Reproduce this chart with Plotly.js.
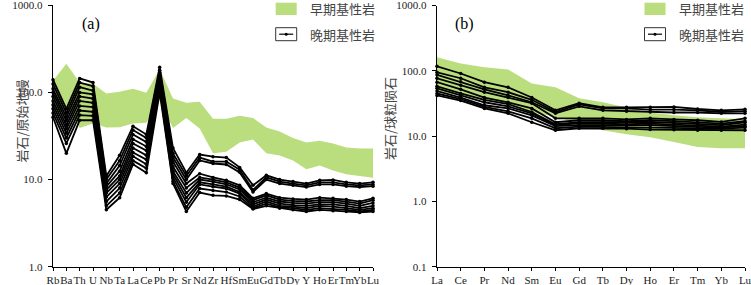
<!DOCTYPE html>
<html>
<head>
<meta charset="utf-8">
<script src="https://cdn.plot.ly/plotly-3.0.1.min.js"></script>
<style>html,body{margin:0;padding:0;background:#fff;}#chart{width:751px;height:285px;}</style>
</head>
<body>
<div id="chart"></div>
<script>
// ---------- Panel (a): primitive-mantle normalised ----------
const elemsPM = ["Rb","Ba","Th","U","Nb","Ta","La","Ce","Pb","Pr","Sr","Nd","Zr","Hf","Sm","Eu","Gd","Tb","Dy","Y","Ho","Er","Tm","Yb","Lu"];
const earlyPM_upper = [136,213,130,126,97,102,110,99,185,85,76,78,50,50,54,51,39.5,35.6,30,26.6,28,25.9,23.3,22.7,22.7];
const earlyPM_lower = [52,70,39,44,39.5,40,44,45,80,39,51,38.5,20,20.8,26.6,28.8,20,18.9,16.6,13.1,14.5,12.7,11.5,10.9,10.5];
const latePM1  = [140,65,145,130,11,19,41,33,195,23,12,19.4,18.3,17.9,13.8,8.6,11.2,10,9.5,9.0,9.8,9.9,9.3,9.0,9.3];
const latePM2  = [125,58,130,118,10,16.5,37,30,180,20,11,17.9,16.1,16.1,13,7.6,10.6,9.5,9.0,8.6,9.3,9.3,8.8,8.6,8.8];
const latePM3  = [110,52,115,105,9,14.5,33,27,170,18,10,16.6,15.3,14.9,12.1,7.2,10,9.0,8.6,8.2,8.8,8.8,8.4,8.2,8.4];
const latePM4  = [100,47,100,95,8.3,12.5,29,24,160,16,9,11.7,10.6,9.8,8.6,6.1,6.9,6.2,6.0,5.9,6.2,6.1,5.9,5.6,6.1];
const latePM5  = [90,42,90,85,7.6,11,26,21.5,150,14,8,10.6,10,9.3,8.1,5.8,6.6,5.9,5.7,5.6,5.8,5.8,5.6,5.3,5.8];
const latePM6  = [80,38,80,76,7,10,23,19,140,12.5,7,10,9.5,8.8,7.7,5.5,6.2,5.6,5.4,5.3,5.5,5.5,5.3,5.0,5.4];
const latePM7  = [72,34,70,68,6.3,9,20.5,17,130,11.5,6.2,9.3,8.8,8.3,7.2,5.2,5.9,5.3,5.1,5.0,5.2,5.2,5.0,4.7,5.0];
const latePM8  = [65,30,62,60,5.6,8,18.5,15,120,10.5,5.5,8.8,8.3,7.9,6.9,4.9,5.6,5.0,4.9,4.7,5.0,4.9,4.7,4.5,4.7];
const latePM9  = [58,26,55,54,5,7,16.5,13.5,110,9.5,4.8,7.9,7.5,7.2,6.4,4.7,5.3,4.8,4.7,4.5,4.7,4.6,4.5,4.3,4.5];
const latePM10 = [52,20,48,48,4.5,6.2,15,12,100,9,4.3,7.1,6.6,6.5,5.9,4.6,5.0,4.7,4.5,4.3,4.5,4.4,4.3,4.2,4.3];
const yTickValsA = [1,10,100,1000];
const yTickTextA = ["1.0","10.0","100.0","1000.0"];

// ---------- Panel (b): chondrite normalised ----------
const elemsCH = ["La","Ce","Pr","Nd","Sm","Eu","Gd","Tb","Dy","Ho","Er","Tm","Yb","Lu"];
const earlyCH_upper = [161,130,113,105,64,56,38,33,27.5,23,20.9,19.4,18.7,18.1];
const earlyCH_lower = [48,42,35,31,23,20,15.5,12.3,10.7,9.6,8.1,6.8,6.5,6.5];
const lateCH1  = [117,91,67,56,39,24.8,31.9,27.6,27.6,27.6,28,26,24.8,25.7];
const lateCH2  = [95,77,56,47,36,23.4,30.6,26.6,26.6,25.5,25.5,24.8,23.4,24.1];
const lateCH3  = [87,68,52,42,33,22.3,28.6,24.8,24,23.5,23,23,22.3,22.3];
const lateCH4  = [77,60,47,39,31.9,18.7,18.7,18.7,18,18.7,18,17.5,16.5,18.7];
const lateCH5  = [67,52,39,33,26.6,16.3,17.5,17.5,17,17.5,17,16.3,15.5,17];
const lateCH6  = [58,45,36,31,23.4,15.2,16.3,16.3,16.3,16.5,16,15.5,14.7,16.3];
const lateCH7  = [54,42,33,28.6,22.3,14.7,15.7,15.5,15.2,15.5,15,14.5,14,15];
const lateCH8  = [49,39,29.7,26.6,20.8,14.2,14.7,14.7,14.7,14.7,14.2,13.8,13.5,14.2];
const lateCH9  = [45,37,28,24,18.7,13.2,14,13.8,13.6,13.5,13.4,13.2,13,13.5];
const lateCH10 = [42,35,26.6,22.3,16.3,12.3,13.2,13.2,13,12.6,12.5,12.3,12.3,12.3];
const yTickValsB = [0.1,1,10,100,1000];
const yTickTextB = ["0.1","1.0","10.0","100.0","1000.0"];

const legendEarly = "早期基性岩";
const legendLate = "晚期基性岩";
const yTitleA = "岩石/原始地幔";
const yTitleB = "岩石/球粒陨石";

// ---------- build ----------
const W = 751, H = 285;
const px = x => x / W;
const py = y => 1 - y / H;
const GREEN = "rgb(186,221,126)";
const serif = "Liberation Serif, Times New Roman, serif";
const cjk = "Noto Sans CJK SC, sans-serif";

const latePM = [latePM1,latePM2,latePM3,latePM4,latePM5,latePM6,latePM7,latePM8,latePM9,latePM10];
const lateCH = [lateCH1,lateCH2,lateCH3,lateCH4,lateCH5,lateCH6,lateCH7,lateCH8,lateCH9,lateCH10];

const traces = [];
function band(xs, lo, hi, xa, ya) {
  traces.push({x: xs, y: lo, xaxis: xa, yaxis: ya, type: "scatter", mode: "lines",
    line: {width: 0, color: GREEN}, hoverinfo: "skip", showlegend: false});
  traces.push({x: xs, y: hi, xaxis: xa, yaxis: ya, type: "scatter", mode: "lines",
    line: {width: 0, color: GREEN}, fill: "tonexty", fillcolor: GREEN, showlegend: false});
}
band(elemsPM, earlyPM_lower, earlyPM_upper, "x", "y");
band(elemsCH, earlyCH_lower, earlyCH_upper, "x2", "y2");
latePM.forEach(s => traces.push({x: elemsPM, y: s, xaxis: "x", yaxis: "y", type: "scatter",
  mode: "lines+markers", line: {color: "#000", width: 1.8}, marker: {color: "#000", size: 3.5},
  cliponaxis: false, showlegend: false}));
lateCH.forEach(s => traces.push({x: elemsCH, y: s, xaxis: "x2", yaxis: "y2", type: "scatter",
  mode: "lines+markers", line: {color: "#000", width: 1.8}, marker: {color: "#000", size: 3.5},
  cliponaxis: false, showlegend: false}));

const tickFont = {family: serif, size: 11, color: "#222"};
const xCommon = {type: "category", showline: true, linecolor: "#000", linewidth: 1.2,
  ticks: "outside", ticklen: 3, tickcolor: "#000", showgrid: false, zeroline: false,
  tickfont: tickFont, tickangle: 0, ticklabeloverflow: "allow", automargin: false, fixedrange: true};
const yCommon = {type: "log", showline: true, linecolor: "#000", linewidth: 1.2,
  ticks: "outside", ticklen: 4, tickcolor: "#000", showgrid: false, zeroline: false,
  tickfont: tickFont, ticklabeloverflow: "allow", ticklabelstandoff: 3, automargin: false, fixedrange: true};

const layout = {
  width: W, height: H, margin: {l: 0, r: 0, t: 0, b: 0},
  paper_bgcolor: "#fff", plot_bgcolor: "rgba(0,0,0,0)", showlegend: false,
  xaxis: Object.assign({}, xCommon, {domain: [px(53), px(373)], range: [0, elemsPM.length - 1], anchor: "y"}),
  yaxis: Object.assign({}, yCommon, {domain: [py(266.7), py(5.3)], range: [0, 3.0005], anchor: "x",
    tickvals: yTickValsA, ticktext: yTickTextA}),
  xaxis2: Object.assign({}, xCommon, {domain: [px(437), px(745)], range: [0, elemsCH.length - 1], anchor: "y2"}),
  yaxis2: Object.assign({}, yCommon, {domain: [py(266.7), py(5.5)], range: [-1, 3.0005], anchor: "x2",
    tickvals: yTickValsB, ticktext: yTickTextB}),
  shapes: [], annotations: []
};

function legend(bx) {
  layout.shapes.push({type: "rect", xref: "paper", yref: "paper", x0: px(bx), x1: px(bx + 21), y0: py(15), y1: py(2.7),
    fillcolor: GREEN, line: {width: 0}});
  layout.shapes.push({type: "rect", xref: "paper", yref: "paper", x0: px(bx), x1: px(bx + 21), y0: py(40.7), y1: py(27.7),
    fillcolor: "#fff", line: {width: 1, color: "#333"}});
  layout.shapes.push({type: "line", xref: "paper", yref: "paper", x0: px(bx + 3.5), x1: px(bx + 17.5), y0: py(34.2), y1: py(34.2),
    line: {width: 1.2, color: "#000"}});
  layout.shapes.push({type: "circle", xref: "paper", yref: "paper", x0: px(bx + 9), x1: px(bx + 12), y0: py(35.7), y1: py(32.7),
    fillcolor: "#000", line: {width: 0}});
  layout.annotations.push({xref: "paper", yref: "paper", x: px(bx + 32), y: py(9), xanchor: "left", yanchor: "middle",
    text: legendEarly, showarrow: false, font: {family: cjk, size: 13, color: "#444"}});
  layout.annotations.push({xref: "paper", yref: "paper", x: px(bx + 32), y: py(34.5), xanchor: "left", yanchor: "middle",
    text: legendLate, showarrow: false, font: {family: cjk, size: 13, color: "#444"}});
}
legend(275.7);
legend(644.5);

layout.annotations.push({xref: "paper", yref: "paper", x: px(9), y: py(121), textangle: -90,
  text: yTitleA, showarrow: false, font: {family: cjk, size: 13, color: "#444"}});
layout.annotations.push({xref: "paper", yref: "paper", x: px(390), y: py(119), textangle: -90,
  text: yTitleB, showarrow: false, font: {family: cjk, size: 13, color: "#444"}});
layout.annotations.push({xref: "paper", yref: "paper", x: px(80), y: py(13), text: "(a)", showarrow: false,
  font: {family: serif, size: 16, color: "#000"}});
layout.annotations.push({xref: "paper", yref: "paper", x: px(464.5), y: py(13), text: "(b)", showarrow: false,
  font: {family: serif, size: 16, color: "#000"}});

Plotly.newPlot("chart", traces, layout, {displayModeBar: false, staticPlot: true});
</script>
</body>
</html>
